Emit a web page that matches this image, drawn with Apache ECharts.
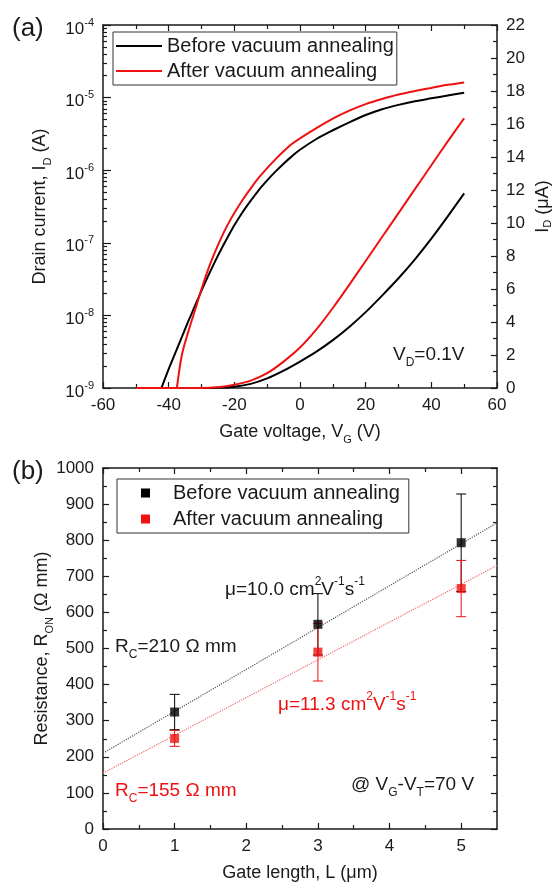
<!DOCTYPE html>
<html>
<head>
<meta charset="utf-8">
<title>Transfer curves and on-resistance</title>
<script src="https://cdn.jsdelivr.net/npm/echarts@6/dist/echarts.min.js"></script>
<style>
  html, body { margin: 0; padding: 0; background: #fff; }
  #chart { width: 553px; height: 883px; }
</style>
</head>
<body>
<div id="chart"></div>
<script>
// (a) drain current, log scale (A)
var vgBeforeLog = [-42.2, -40, -38, -36, -34, -32, -30, -28, -26, -24, -22, -20, -17.5, -15, -12.5, -10, -7.5, -5, -2.5, 0, 5, 10, 15, 20, 25, 30, 35, 40, 45, 50];
var idBeforeLog = [1.00e-9, 1.82e-9, 3.02e-9, 5.01e-9, 8.32e-9, 1.35e-8, 2.19e-8, 3.47e-8, 5.37e-8, 8.13e-8, 1.20e-7, 1.74e-7, 2.63e-7, 3.80e-7, 5.37e-7, 7.24e-7, 9.55e-7, 1.23e-6, 1.55e-6, 1.91e-6, 2.69e-6, 3.55e-6, 4.57e-6, 5.75e-6, 6.92e-6, 7.94e-6, 8.91e-6, 9.77e-6, 1.07e-5, 1.17e-5];
var vgAfterLog = [-37.5, -36, -34, -32, -30, -28, -26, -24, -22, -20, -17.5, -15, -12.5, -10, -7.5, -5, -2.5, 0, 5, 10, 15, 20, 25, 30, 35, 40, 45, 50];
var idAfterLog = [1.00e-9, 2.82e-9, 6.03e-9, 1.17e-8, 2.29e-8, 4.27e-8, 7.24e-8, 1.17e-7, 1.78e-7, 2.57e-7, 3.89e-7, 5.62e-7, 7.94e-7, 1.07e-6, 1.41e-6, 1.82e-6, 2.29e-6, 2.75e-6, 3.80e-6, 5.13e-6, 6.61e-6, 8.13e-6, 9.55e-6, 1.10e-5, 1.23e-5, 1.36e-5, 1.50e-5, 1.62e-5];

// (a) drain current, linear scale (uA)
var vgLin = [-50, -30, -25, -20, -15, -10, -5, 0, 5, 10, 15, 20, 25, 30, 35, 40, 45, 50];
var idBeforeLin = [0, 0, 0.02, 0.08, 0.25, 0.58, 1.05, 1.6, 2.2, 2.9, 3.7, 4.6, 5.6, 6.65, 7.8, 9.05, 10.4, 11.8];
var idAfterLin = [0, 0, 0.05, 0.2, 0.45, 0.9, 1.6, 2.45, 3.55, 4.85, 6.25, 7.7, 9.15, 10.6, 12.05, 13.5, 14.95, 16.35];

// (b) on-resistance vs gate length (ohm mm)
var gateLength = [1, 3, 5];
var ronBefore = [324, 567, 793];
var ronBeforeErr = [49, 85, 135];
var ronAfter = [251, 490, 666];
var ronAfterErr = [22, 80, 78];

// (b) dotted linear fits
var fitL = [0, 5.5];
var fitBefore = [210, 848];
var fitAfter = [155, 730];

// tick values
var lengthTicks = [0, 1, 2, 3, 4, 5];
var lengthMinorTicks = [0.5, 1.5, 2.5, 3.5, 4.5];
var logMinorTicks = [];
for (var e = -9; e < -4; e++) {
  for (var k = 2; k <= 9; k++) logMinorTicks.push(e + Math.log10(k));
}

var FONT = '"Liberation Sans", Arial, Helvetica, sans-serif';
var INK = '#1a1a1a';
var RED = '#ee1111';
var NAME_B = 'Before vacuum annealing';
var NAME_A = 'After vacuum annealing';

function zip(xs, ys) {
  return xs.map(function (x, i) { return [x, ys[i]]; });
}

var axisLineStyle = { color: INK, width: 1.5 };
var tickLineStyle = { color: INK, width: 1.2 };

function frame(opt) {
  var base = {
    type: 'value',
    nameMoveOverlap: false,
    axisLine: { show: true, onZero: false, lineStyle: axisLineStyle },
    axisTick: { show: true, inside: true, length: 6, lineStyle: tickLineStyle },
    splitLine: { show: false },
    axisLabel: { color: INK, fontSize: 17, fontFamily: FONT, margin: 9 },
    nameTextStyle: {
      color: INK, fontSize: 18, fontFamily: FONT, lineHeight: 26,
      rich: {
        sub: { fontSize: 11, fontFamily: FONT, color: INK, lineHeight: 10, verticalAlign: 'bottom' }
      }
    }
  };
  for (var key in opt) {
    if (typeof opt[key] === 'object' && base[key] && !Array.isArray(opt[key])) {
      base[key] = Object.assign({}, base[key], opt[key]);
    } else {
      base[key] = opt[key];
    }
  }
  return base;
}

var minor = { show: true, splitNumber: 2, length: 4, lineStyle: tickLineStyle };

function plain(v) { return String(v); }

function makeRich(color) {
  return {
    sub: { fontSize: 12, fontFamily: FONT, fill: color, lineHeight: 8, verticalAlign: 'bottom' },
    sup: { fontSize: 12, fontFamily: FONT, fill: color, lineHeight: 14, verticalAlign: 'top' }
  };
}

function note(x, y, text, color, size) {
  return {
    type: 'text', x: x, y: y, silent: true,
    style: {
      text: text, fontSize: size || 19, fontFamily: FONT, fill: color,
      lineHeight: 28, align: 'left', verticalAlign: 'middle', rich: makeRich(color)
    }
  };
}

function errorBars(name, xs, ys, errs, color) {
  return {
    type: 'custom', name: name, xAxisIndex: 2, yAxisIndex: 3, z: 3,
    data: xs.map(function (x, i) { return [x, ys[i], errs[i]]; }),
    encode: { x: 0, y: 1 },
    renderItem: function (params, api) {
      var x = api.value(0), y = api.value(1), d = api.value(2);
      var top = api.coord([x, y + d]);
      var bot = api.coord([x, y - d]);
      var st = { stroke: color, lineWidth: 1 };
      var hw = 5;
      return {
        type: 'group',
        children: [
          { type: 'line', shape: { x1: top[0], y1: top[1], x2: bot[0], y2: bot[1] }, style: st },
          { type: 'line', shape: { x1: top[0] - hw, y1: top[1], x2: top[0] + hw, y2: top[1] }, style: st },
          { type: 'line', shape: { x1: bot[0] - hw, y1: bot[1], x2: bot[0] + hw, y2: bot[1] }, style: st }
        ]
      };
    }
  };
}

function curve(name, axisIdx, xs, ys, color) {
  return {
    type: 'line', name: name, xAxisIndex: 0, yAxisIndex: axisIdx,
    data: zip(xs, ys), symbol: 'none', smooth: 0.3,
    lineStyle: { color: color, width: 2 }, itemStyle: { color: color }
  };
}

var chart = echarts.init(document.getElementById('chart'));

var option = {
  animation: false,
  backgroundColor: '#fff',
  textStyle: { fontFamily: FONT },
  grid: [
    { left: 103, top: 25, width: 394, height: 363, outerBoundsMode: 'none', containLabel: false },
    { left: 103, top: 468, width: 394, height: 361, outerBoundsMode: 'none', containLabel: false }
  ],
  legend: [
    {
      left: 113, top: 32, orient: 'vertical', selectedMode: false,
      data: [NAME_B, NAME_A],
      itemWidth: 46, itemHeight: 2, itemGap: 5,
      padding: [4, 3, 4, 2],
      borderColor: '#333', borderWidth: 1,
      textStyle: { color: INK, fontSize: 20, fontFamily: FONT, lineHeight: 19 }
    },
    {
      left: 117, top: 479, orient: 'vertical', selectedMode: false,
      data: [{ name: NAME_B, icon: 'rect' }, { name: NAME_A, icon: 'rect' }],
      itemWidth: 9, itemHeight: 9, itemGap: 6,
      padding: [4, 9, 4, 24],
      borderColor: '#333', borderWidth: 1,
      textStyle: { color: INK, fontSize: 20, fontFamily: FONT, lineHeight: 19, padding: [0, 0, 0, 18] }
    }
  ],
  xAxis: [
    frame({
      gridIndex: 0, position: 'bottom', min: -60, max: 60, interval: 20, minorTick: minor,
      name: 'Gate voltage, V{sub|G} (V)', nameLocation: 'middle', nameGap: 31
    }),
    frame({
      gridIndex: 0, position: 'top', min: -60, max: 60, interval: 20, minorTick: minor,
      axisLabel: { show: false }
    }),
    frame({
      gridIndex: 1, position: 'bottom', min: 0, max: 5.5,
      axisTick: { customValues: lengthTicks },
      axisLabel: { customValues: lengthTicks, formatter: plain },
      name: 'Gate length, L (\u03bcm)', nameLocation: 'middle', nameGap: 31
    }),
    frame({
      gridIndex: 1, position: 'top', min: 0, max: 5.5,
      axisTick: { customValues: lengthTicks },
      axisLabel: { show: false }
    }),
    frame({
      gridIndex: 1, position: 'bottom', min: 0, max: 5.5,
      axisLine: { show: false },
      axisTick: { customValues: lengthMinorTicks, length: 4 },
      axisLabel: { show: false }
    }),
    frame({
      gridIndex: 1, position: 'top', min: 0, max: 5.5,
      axisLine: { show: false },
      axisTick: { customValues: lengthMinorTicks, length: 4 },
      axisLabel: { show: false }
    })
  ],
  yAxis: [
    frame({
      gridIndex: 0, type: 'log', logBase: 10, min: 1e-9, max: 1e-4, position: 'left',
      axisTick: { length: 8 },
      axisLabel: {
        padding: [8, 0, 0, 0], lineHeight: 24,
        formatter: function (v) { return '10{sup|' + Math.round(Math.log10(v)) + '}'; },
        rich: { sup: { fontSize: 11, fontFamily: FONT, color: INK, lineHeight: 12, verticalAlign: 'top' } }
      },
      name: 'Drain current, I{sub|D} (A)', nameLocation: 'middle', nameRotate: 90, nameGap: 50
    }),
    frame({
      gridIndex: 0, min: -9, max: -4, position: 'left',
      axisLine: { show: false },
      axisTick: { customValues: logMinorTicks, length: 4 },
      axisLabel: { show: false }
    }),
    frame({
      gridIndex: 0, min: 0, max: 22, interval: 2, position: 'right', minorTick: minor,
      axisLabel: { formatter: plain },
      name: 'I{sub|D} (\u03bcA)', nameLocation: 'middle', nameRotate: 90, nameGap: 36,
      nameTextStyle: {
        lineHeight: 20,
        rich: { sub: { fontSize: 11, fontFamily: FONT, color: INK, lineHeight: 6, verticalAlign: 'bottom' } }
      }
    }),
    frame({
      gridIndex: 1, min: 0, max: 1000, interval: 100, position: 'left', minorTick: minor,
      axisLabel: { formatter: plain },
      name: 'Resistance, R{sub|ON} (\u03a9 mm)', nameLocation: 'middle', nameRotate: 90, nameGap: 48
    }),
    frame({
      gridIndex: 1, min: 0, max: 1000, interval: 100, position: 'right', minorTick: minor,
      axisLabel: { show: false }
    })
  ],
  series: [
    curve(NAME_B, 0, vgBeforeLog, idBeforeLog, '#000'),
    curve(NAME_B, 2, vgLin, idBeforeLin, '#000'),
    curve(NAME_A, 0, vgAfterLog, idAfterLog, RED),
    curve(NAME_A, 2, vgLin, idAfterLin, RED),
    {
      type: 'line', name: 'fit before', xAxisIndex: 2, yAxisIndex: 3, z: 2, silent: true,
      data: zip(fitL, fitBefore), symbol: 'none',
      lineStyle: { color: '#555', width: 1.2, type: 'dotted' }
    },
    {
      type: 'line', name: 'fit after', xAxisIndex: 2, yAxisIndex: 3, z: 2, silent: true,
      data: zip(fitL, fitAfter), symbol: 'none',
      lineStyle: { color: '#f06a6a', width: 1.2, type: 'dotted' }
    },
    errorBars('error before', gateLength, ronBefore, ronBeforeErr, '#000'),
    errorBars('error after', gateLength, ronAfter, ronAfterErr, RED),
    {
      type: 'scatter', name: NAME_B, xAxisIndex: 2, yAxisIndex: 3, z: 4,
      data: zip(gateLength, ronBefore), symbol: 'rect', symbolSize: 9,
      itemStyle: { color: '#000' }
    },
    {
      type: 'scatter', name: NAME_A, xAxisIndex: 2, yAxisIndex: 3, z: 4,
      data: zip(gateLength, ronAfter), symbol: 'rect', symbolSize: 9,
      itemStyle: { color: RED }
    }
  ],
  graphic: [
    note(12, 29, '(a)', INK, 26),
    note(12, 472, '(b)', INK, 26),
    note(393, 355, 'V{sub|D}=0.1V', INK),
    note(225, 590, '\u03bc=10.0 cm{sup|2}V{sup|-1}s{sup|-1}', INK),
    note(115, 647, 'R{sub|C}=210 \u03a9 mm', INK),
    note(278, 705, '\u03bc=11.3 cm{sup|2}V{sup|-1}s{sup|-1}', RED),
    note(115, 791, 'R{sub|C}=155 \u03a9 mm', RED),
    note(351, 785, '@ V{sub|G}-V{sub|T}=70 V', INK)
  ]
};

chart.setOption(option);
</script>
</body>
</html>
